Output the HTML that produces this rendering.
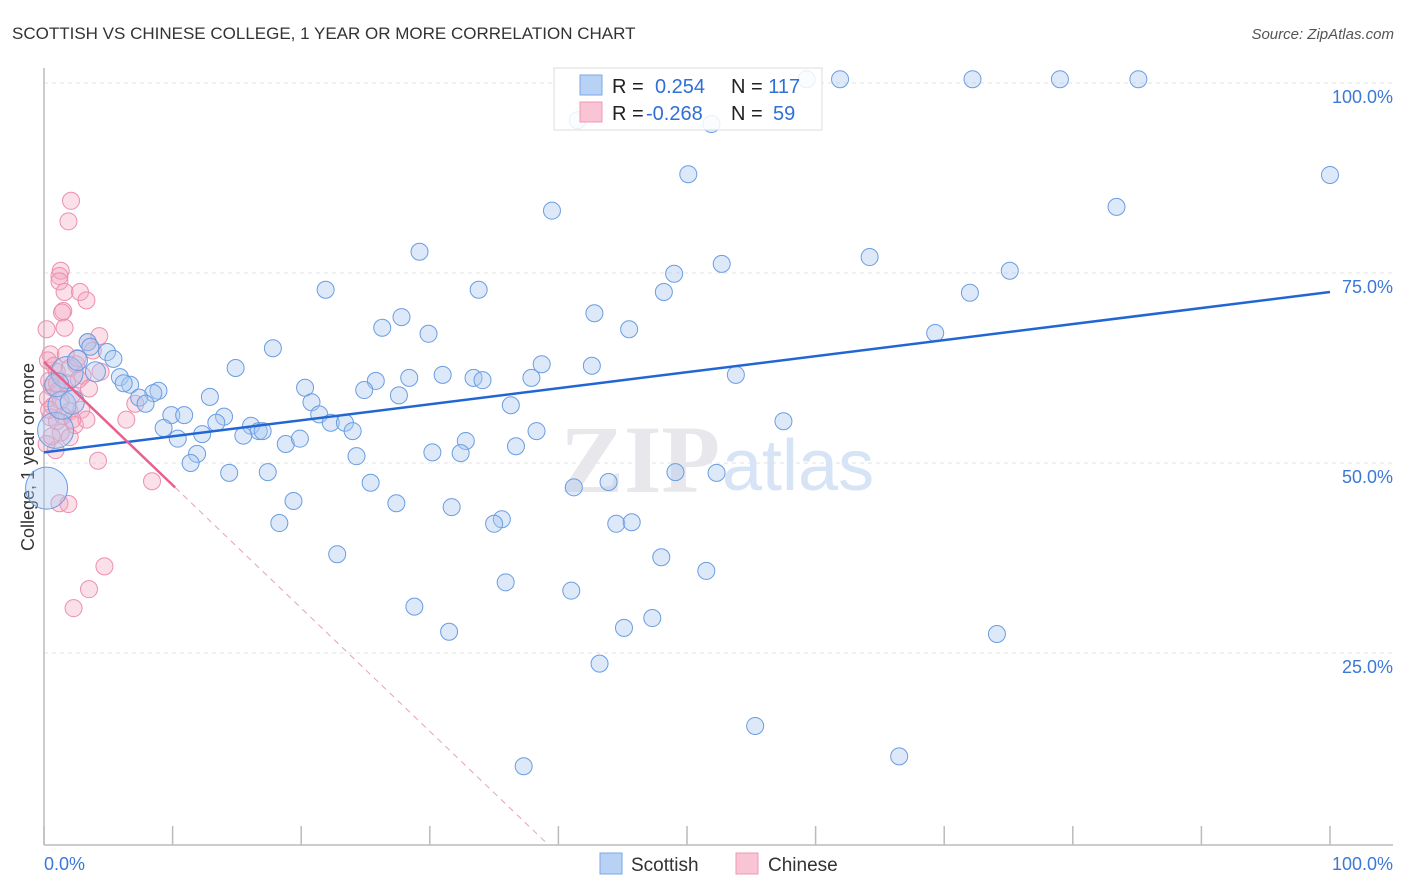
<!DOCTYPE html>
<html><head><meta charset="utf-8">
<style>
body{margin:0;background:#fff;font-family:"Liberation Sans",sans-serif;}
#wrap{position:relative;width:1406px;height:892px;overflow:hidden;}
</style></head>
<body>
<div id="wrap">
<svg id="chart" width="1406" height="892" xmlns="http://www.w3.org/2000/svg">
<text x="12" y="39" font-size="17" fill="#333">SCOTTISH VS CHINESE COLLEGE, 1 YEAR OR MORE CORRELATION CHART</text>
<text x="1394" y="39" font-size="15" fill="#555" font-style="italic" text-anchor="end">Source: ZipAtlas.com</text>
<text transform="translate(34,457) rotate(-90)" font-size="18" fill="#333" text-anchor="middle">College, 1 year or more</text>
<g id="grid"></g>
<text x="720" y="492" font-size="96" font-weight="bold" fill="#e8e8ec" text-anchor="end" font-family="Liberation Serif,serif">ZIP</text>
<text x="722" y="490" font-size="72" fill="#d6e4f5">atlas</text>
<g id="axes"></g>
<g id="pts"></g>
<g id="lines"></g>
<g>
<rect x="554" y="68" width="268" height="62" fill="#fff" fill-opacity="0.85" stroke="#ddd"/>
<rect x="580" y="75" width="22" height="20" fill="#b7d2f5" stroke="#7aa8e6"/>
<rect x="580" y="102" width="22" height="20" fill="#f9c4d4" stroke="#ee9ab4"/>
<text x="612" y="93" font-size="20" fill="#222">R = <tspan fill="#2f6fd6" x="655">0.254</tspan><tspan x="731">N = </tspan><tspan fill="#2f6fd6">117</tspan></text>
<text x="612" y="120" font-size="20" fill="#222">R = <tspan fill="#2f6fd6" x="646">-0.268</tspan><tspan x="731">N = </tspan><tspan fill="#2f6fd6" x="773">59</tspan></text>
</g>
<g>
<rect x="600" y="853" width="22" height="21" fill="#b7d2f5" stroke="#7aa8e6"/>
<text x="631" y="871" font-size="19" fill="#333">Scottish</text>
<rect x="736" y="853" width="22" height="21" fill="#f9c4d4" stroke="#ee9ab4"/>
<text x="768" y="871" font-size="19" fill="#333">Chinese</text>
</g>
</svg>
</div>
<script>
const blueX=[59.3,61.9,72.2,79.0,85.1,41.5,51.9,50.1,100,39.5,83.4,29.2,49.0,52.7,64.2,75.1,48.2,72.0,21.9,33.8,42.8,27.8,26.3,45.5,29.9,69.3,17.8,3.4,4.9,5.4,3.6,14.9,38.7,42.6,5.9,6.7,25.8,28.4,31.0,33.4,34.1,37.9,53.8,20.3,24.9,27.6,8.9,8.5,7.4,12.9,7.9,20.8,36.3,9.9,10.9,14.0,21.4,13.4,9.3,22.3,23.4,16.1,16.7,17.0,24.0,38.3,57.5,10.4,12.3,15.5,18.8,19.9,32.8,36.7,11.9,11.4,24.3,30.2,32.4,14.4,17.4,49.1,52.3,25.4,41.2,43.9,19.4,27.4,31.7,18.3,35.6,35.0,44.5,45.7,22.8,48.0,51.5,35.9,41.0,28.8,47.3,45.1,31.5,74.1,43.2,55.3,66.5,37.3,0.2,0.9,1.8,1.4,2.6,4.0,6.2,2.2,1.0];
const blueY=[100.5,100.5,100.5,100.5,100.5,95.1,94.6,88.0,87.9,83.2,83.7,77.8,74.9,76.2,77.1,75.3,72.5,72.4,72.8,72.8,69.7,69.2,67.8,67.6,67.0,67.1,65.1,65.9,64.6,63.7,65.3,62.5,63.0,62.8,61.3,60.3,60.8,61.2,61.6,61.2,60.9,61.2,61.6,59.9,59.6,58.9,59.5,59.2,58.6,58.7,57.8,58.0,57.6,56.3,56.3,56.1,56.4,55.3,54.6,55.3,55.3,54.9,54.2,54.2,54.2,54.2,55.5,53.2,53.8,53.6,52.5,53.2,52.9,52.2,51.2,50.0,50.9,51.4,51.3,48.7,48.8,48.8,48.7,47.4,46.8,47.5,45.0,44.7,44.2,42.1,42.6,42.0,42.0,42.2,38.0,37.6,35.8,34.3,33.2,31.1,29.6,28.3,27.8,27.5,23.6,15.4,11.4,10.1,46.7,54.3,61.9,57.6,63.5,62.0,60.5,58.0,60.3];
const blueR=[8.5,8.5,8.5,8.5,8.5,8.5,8.5,8.5,8.5,8.5,8.5,8.5,8.5,8.5,8.5,8.5,8.5,8.5,8.5,8.5,8.5,8.5,8.5,8.5,8.5,8.5,8.5,8.5,8.5,8.5,8.5,8.5,8.5,8.5,8.5,8.5,8.5,8.5,8.5,8.5,8.5,8.5,8.5,8.5,8.5,8.5,8.5,8.5,8.5,8.5,8.5,8.5,8.5,8.5,8.5,8.5,8.5,8.5,8.5,8.5,8.5,8.5,8.5,8.5,8.5,8.5,8.5,8.5,8.5,8.5,8.5,8.5,8.5,8.5,8.5,8.5,8.5,8.5,8.5,8.5,8.5,8.5,8.5,8.5,8.5,8.5,8.5,8.5,8.5,8.5,8.5,8.5,8.5,8.5,8.5,8.5,8.5,8.5,8.5,8.5,8.5,8.5,8.5,8.5,8.5,8.5,8.5,8.5,21,18,16,14,10,10,8.5,12,12];
const pinkX=[2.1,1.9,1.3,1.2,1.2,1.6,2.8,3.3,1.5,1.4,1.6,0.2,4.3,0.5,1.7,3.4,4.4,0.3,0.8,1.0,2.0,2.5,3.0,0.4,0.6,1.1,1.8,2.2,2.7,3.5,0.3,0.7,1.3,2.0,2.9,0.5,1.0,1.5,2.4,3.3,6.4,7.1,2.2,1.3,2.0,0.9,4.2,8.4,1.2,1.9,4.7,3.5,2.3,0.2,0.6,1.0,2.6,3.8,0.4];
const pinkY=[84.5,81.8,75.3,74.6,73.9,72.5,72.5,71.4,70.0,69.8,67.8,67.6,66.7,64.3,64.3,65.9,62.0,63.5,62.8,62.0,62.5,63.0,61.5,60.8,60.0,59.5,60.5,59.0,61.0,59.8,58.5,57.5,58.2,56.8,57.0,56.0,55.5,56.2,55.0,55.7,55.7,57.8,55.7,54.0,53.4,51.7,50.3,47.6,44.7,44.6,36.4,33.4,30.9,52.5,53.5,60.5,63.8,64.8,57.0];
const gridTicks=[25,50,75,100];
const gridLabels=["25.0%","50.0%","75.0%","100.0%"];
const xTicks=[0,10,20,30,40,50,60,70,80,90,100];
const blueLine=[51.4,72.5];
const pinkLine=[63.3,-1.62,10.2];

const NS="http://www.w3.org/2000/svg";
const sx=v=>44+v*12.86, sy=v=>843-v*7.6;
function mk(tag,attrs,parent){const e=document.createElementNS(NS,tag);for(const k in attrs)e.setAttribute(k,attrs[k]);parent.appendChild(e);return e;}
const grid=document.getElementById('grid'),axes=document.getElementById('axes'),pts=document.getElementById('pts'),lines=document.getElementById('lines');
gridTicks.forEach((t,i)=>{
 const l=mk('line',{x1:44,x2:1393,y1:sy(t),y2:sy(t),stroke:'#e2e2e2','stroke-dasharray':'4,4'},grid);
 
 
 const tx=mk('text',{x:1393,y:sy(t)+20,'font-size':18,fill:'#3b78d8','text-anchor':'end'},grid);
 tx.textContent=gridLabels[i];
 
 
});
mk('line',{x1:44,x2:44,y1:68,y2:845,stroke:'#bbb','stroke-width':1.5},axes);
mk('line',{x1:44,x2:1393,y1:845,y2:845,stroke:'#bbb','stroke-width':1.5},axes);
xTicks.forEach(t=>{const l=mk('line',{x1:sx(t),x2:sx(t),y1:826,y2:845,stroke:'#bbb','stroke-width':1.5},axes);
 
 });
const a=mk('text',{x:44,y:870,'font-size':18,fill:'#3b78d8'},axes);a.textContent='0.0%';


const b=mk('text',{x:1393,y:870,'font-size':18,fill:'#3b78d8','text-anchor':'end'},axes);b.textContent='100.0%';


pinkX.forEach((x,i)=>{const c=mk('circle',{cx:sx(x),cy:sy(pinkY[i]),r:8.5,fill:'#f4a7bf','fill-opacity':0.35,stroke:'#ec8fae','stroke-width':1},pts);
 
 });
blueX.forEach((x,i)=>{const c=mk('circle',{cx:sx(x),cy:sy(blueY[i]),r:blueR[i],fill:'#a9c8f0','fill-opacity':0.4,stroke:'#6a9de2','stroke-width':1},pts);
 
 });
const bl=mk('line',{x1:sx(0),y1:sy(blueLine[0]),x2:sx(100),y2:sy(blueLine[1]),stroke:'#2266d4','stroke-width':2.5},lines);


const pEnd=pinkLine[0]+pinkLine[1]*pinkLine[2], zeroX=-pinkLine[0]/pinkLine[1];
const pl=mk('line',{x1:sx(0),y1:sy(pinkLine[0]),x2:sx(pinkLine[2]),y2:sy(pEnd),stroke:'#e8608c','stroke-width':2.5},lines);


const pd=mk('line',{x1:sx(pinkLine[2]),y1:sy(pEnd),x2:sx(zeroX),y2:sy(0),stroke:'#e8a0b8','stroke-width':1,'stroke-dasharray':'6,5'},lines);


</script>
</body></html>
